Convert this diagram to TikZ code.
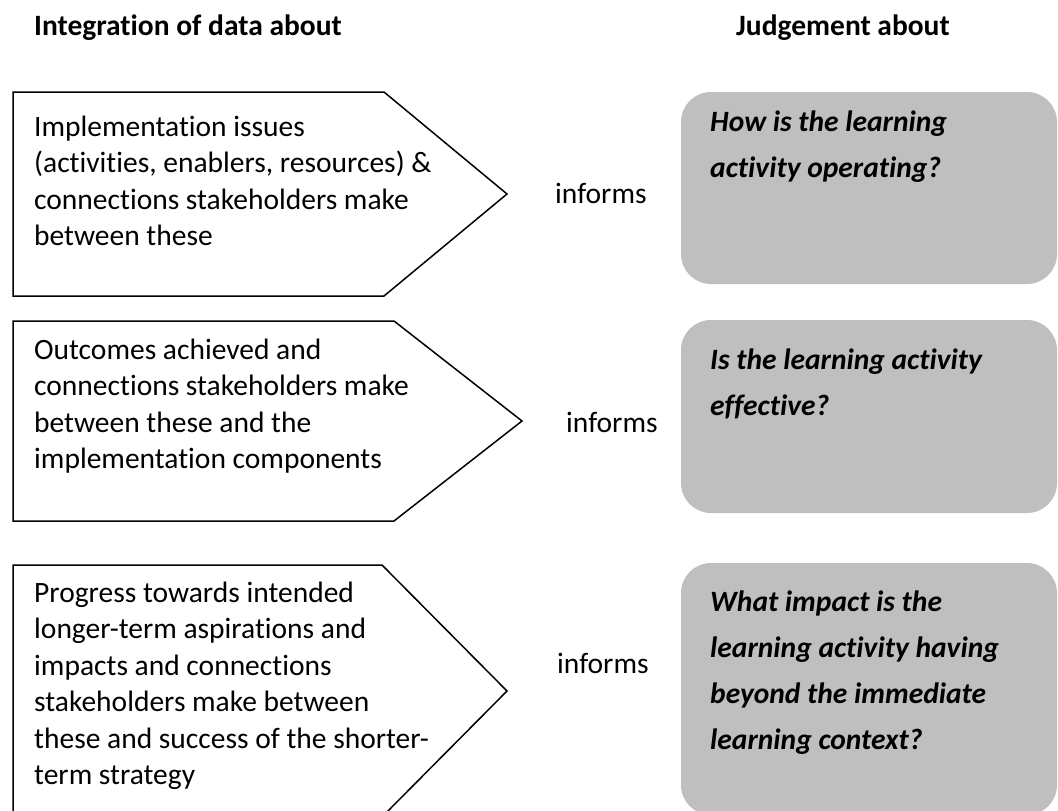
\documentclass[tikz,border=0pt]{standalone}
\usepackage{fontspec}
\setmainfont{Carlito}[Ligatures=NoCommon]
\definecolor{judgegray}{HTML}{BFBFBF}
\begin{document}
\begin{tikzpicture}[x=1pt,y=-1pt,
  pentabox/.style={draw=black, line width=1.5pt, line join=miter},
  judgebox/.style={fill=judgegray, rounded corners=30pt},
  bodytext/.style={font=\fontsize{29.5}{36.5}\selectfont, anchor=base west, inner sep=0pt, align=left},
  qtext/.style={font=\fontsize{29.5}{46}\selectfont\bfseries\itshape, anchor=base west, inner sep=0pt, align=left},
  headtext/.style={font=\fontsize{29.5}{36}\selectfont\bfseries, anchor=base west, inner sep=0pt},
  linktext/.style={font=\fontsize{29.5}{36}\selectfont, anchor=base west, inner sep=0pt}]
\clip (0,0) rectangle (1058,811);
\fill[white] (0,0) rectangle (1058,811);
% headers
\node[headtext] (h1) at (34,35) {Integration of data about};
\node[headtext] (h2) at (736,35) {Judgement about};
% pentagons
\draw[pentabox] (13,92) -- (384,92) -- (507,194) -- (384,296) -- (13,296) -- cycle;
\draw[pentabox] (13,321) -- (394,321) -- (522,421) -- (394,521) -- (13,521) -- cycle;
\draw[pentabox] (13,565) -- (382,565) -- (507,691) -- (382,817) -- (13,817) -- cycle;
% judgement boxes
\fill[judgebox] (681,92) rectangle (1057,284);
\fill[judgebox] (681,320) rectangle (1057,513);
\fill[judgebox] (681,563) rectangle (1057,815);
% texts (anchored at the baseline of the last line)
\node[bodytext] (p1) at (34,245.5) {Implementation issues\\(activities, enablers, resources) \&\\connections stakeholders make\\between these};
\node[bodytext] (p2) at (34,468.5) {Outcomes achieved and\\connections stakeholders make\\between these and the\\implementation components};
\node[bodytext] (p3) at (34,784.5) {Progress towards intended\\longer-term aspirations and\\impacts and connections\\stakeholders make between\\these and success of the shorter-\\term strategy};
\node[linktext] (i1) at (555,203) {informs};
\node[linktext] (i2) at (566,432) {informs};
\node[linktext] (i3) at (557,673) {informs};
\node[qtext] (j1) at (710,177) {How is the learning\\activity operating?};
\node[qtext] (j2) at (710,415) {Is the learning activity\\effective?};
\node[qtext] (j3) at (710,749) {What impact is the\\learning activity having\\beyond the immediate\\learning context?};
\end{tikzpicture}
\end{document}
